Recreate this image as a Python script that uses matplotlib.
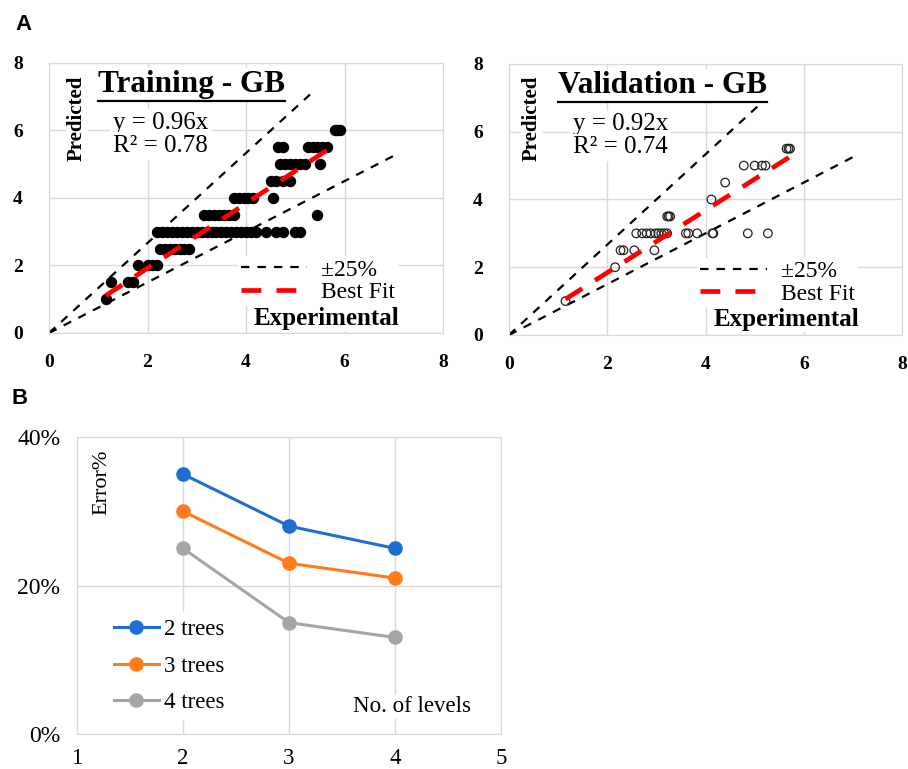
import numpy as np
import matplotlib.pyplot as plt
from matplotlib.lines import Line2D

# ---- panel A: gradient boosting, predicted vs experimental ----
train_x = [5.8, 5.85, 5.9,
           4.65, 4.75, 5.25, 5.35, 5.45, 5.55, 5.65,
           4.7, 4.8, 4.9, 5.0, 5.1, 5.2, 5.5,
           4.5, 4.6, 4.75, 4.9,
           3.75, 3.85, 3.95, 4.05, 4.15, 4.55,
           3.15, 3.25, 3.35, 3.45, 3.55, 3.65, 3.75, 5.45,
           2.2, 2.3, 2.4, 2.5, 2.6, 2.7, 2.8, 2.9, 3.0, 3.1, 3.2, 3.3, 3.4,
           3.5, 3.6, 3.7, 3.8, 3.9, 4.0, 4.1, 4.2, 4.4, 4.6, 4.75, 5.0, 5.1,
           2.25, 2.35, 2.45, 2.55, 2.65, 2.75, 2.85,
           1.8, 2.0, 2.1, 2.2,
           1.25, 1.6, 1.7,
           1.15]
train_y = [6.0] * 3 + [5.5] * 7 + [5.0] * 7 + [4.5] * 4 + [4.0] * 6 + \
          [3.5] * 8 + [3.0] * 26 + [2.5] * 7 + [2.0] * 4 + [1.5] * 3 + [1.0]

valid_x = [1.15, 2.16,
           2.27, 2.33, 2.55, 2.96,
           2.59, 2.71, 2.8, 2.88, 2.98, 3.04, 3.1, 3.16, 3.22,
           3.6, 3.65, 3.83, 4.14, 4.16, 4.86, 5.27,
           3.22, 3.25, 3.28,
           4.12, 4.4,
           4.78, 5.0, 5.15, 5.22,
           5.65, 5.69, 5.72]
valid_y = [1.0, 2.0] + [2.5] * 4 + [3.0] * 16 + [3.5] * 3 + [4.0, 4.5] + \
          [5.0] * 4 + [5.5] * 3

train_slope, train_r2 = 0.96, 0.78
valid_slope, valid_r2 = 0.92, 0.74
fit_range_train = (1.15, 5.65)
fit_range_valid = (1.15, 5.72)

# ---- panel B: error vs depth ----
levels = [2, 3, 4]
err_2trees = [35, 28, 25]
err_3trees = [30, 23, 21]
err_4trees = [25, 15, 13]

SERIF = 'Liberation Serif'
GRID = '#d9d9d9'

fig = plt.figure(figsize=(9.08, 7.69), dpi=100)
ax1 = fig.add_axes([0.0540, 0.5670, 0.4339, 0.3511])
ax2 = fig.add_axes([0.5606, 0.5644, 0.4328, 0.3524])
ax3 = fig.add_axes([0.0848, 0.0455, 0.4670, 0.3862])


def scatter_panel(ax, xs, ys, slope, r2, fit_range, title, hollow, upper_end):
    ax.set_xlim(0, 8)
    ax.set_ylim(0, 8)
    ax.set_xticks([0, 2, 4, 6, 8])
    ax.set_yticks([0, 2, 4, 6, 8])
    ax.grid(True, color=GRID, lw=1)
    ax.set_axisbelow(True)
    for s in ax.spines.values():
        s.set_color(GRID)
    ax.tick_params(length=0, pad=15, labelsize=14)
    ax.tick_params(axis='y', pad=19)
    for lab in ax.get_xticklabels() + ax.get_yticklabels():
        lab.set_fontfamily(SERIF)
        lab.set_fontweight('bold')

    if hollow:
        ax.scatter(xs, ys, s=38, facecolors='none', edgecolors='#222222',
                   linewidths=0.9, zorder=3)
    else:
        ax.scatter(xs, ys, s=52, color='black', zorder=3)

    # +/-25% band
    band, = ax.plot([0, upper_end], [0, upper_end / 0.75], color='black',
                    lw=1.6, dashes=(3.8, 3.6), label='\u00b125%')
    ax.plot([0, 7.0], [0, 0.75 * 7.0], color='black', lw=1.6, dashes=(3.8, 3.6))
    fx = np.array(fit_range)
    fit, = ax.plot(fx, slope * fx, color='#ff0000', lw=3.4, dashes=(4.2, 3.2),
                   label='Best Fit', zorder=4)

    ax.legend(handles=[band, fit], loc='upper left',
              bbox_to_anchor=(0.48, 0.284), frameon=True, fancybox=False,
              framealpha=1, edgecolor='none', facecolor='white',
              prop={'family': SERIF, 'size': 17}, handlelength=2.8,
              handletextpad=0.6, labelspacing=0.03, borderpad=0.12,
              borderaxespad=0)

    ax.set_xlabel('Experimental', fontfamily=SERIF, fontweight='bold',
                  fontsize=18, va='center',
                  bbox=dict(facecolor='white', edgecolor='none', pad=1))
    ax.set_ylabel('Predicted', fontfamily=SERIF, fontweight='bold',
                  fontsize=15, va='center',
                  bbox=dict(facecolor='white', edgecolor='none', pad=1))

    t = ax.text(1.0, 7.35, title, fontfamily=SERIF, fontweight='bold',
                fontsize=22.5, ha='left', va='center',
                bbox=dict(facecolor='white', edgecolor='none', pad=2))
    ax.text(1.3, 6.22, 'y = %.2fx' % slope, fontfamily=SERIF, fontsize=18,
            ha='left', va='center',
            bbox=dict(facecolor='white', edgecolor='none', pad=2))
    ax.text(1.3, 5.54, 'R\u00b2 = %.2f' % r2, fontfamily=SERIF, fontsize=18,
            ha='left', va='center',
            bbox=dict(facecolor='white', edgecolor='none', pad=2))
    return t


t1 = scatter_panel(ax1, train_x, train_y, train_slope, train_r2,
                   fit_range_train, 'Training - GB', False, 5.3)
ax1.xaxis.set_label_coords(0.703, 0.055)
ax1.yaxis.set_label_coords(0.071, 0.796)

t2 = scatter_panel(ax2, valid_x, valid_y, valid_slope, valid_r2,
                   fit_range_valid, 'Validation - GB', True, 5.2)
ax2.xaxis.set_label_coords(0.705, 0.058)
ax2.yaxis.set_label_coords(0.0585, 0.80)

# ---- panel B ----
ax3.plot(levels, err_2trees, '-o', color='#1f6fd0', lw=2.2, ms=9.5, label='2 trees')
ax3.plot(levels, err_3trees, '-o', color='#ff7b1c', lw=2.2, ms=9.5, label='3 trees')
ax3.plot(levels, err_4trees, '-o', color='#a5a5a5', lw=2.2, ms=9.5, label='4 trees')
ax3.set_xlim(1, 5)
ax3.set_ylim(0, 40)
ax3.set_xticks([1, 2, 3, 4, 5])
ax3.set_yticks([0, 20, 40])
ax3.set_yticklabels(['0%', '20%', '40%'])
ax3.grid(True, color=GRID, lw=1)
ax3.set_axisbelow(True)
for s in ax3.spines.values():
    s.set_color(GRID)
ax3.tick_params(length=0, pad=12, labelsize=17)
ax3.tick_params(axis='x', pad=10, labelsize=16.5)
for lab in ax3.get_xticklabels() + ax3.get_yticklabels():
    lab.set_fontfamily(SERIF)
ax3.legend(loc='upper left', bbox_to_anchor=(0.07, 0.41), frameon=True,
           fancybox=False, framealpha=1, edgecolor='none', facecolor='white',
           prop={'family': SERIF, 'size': 16.5}, handlelength=2.0,
           handletextpad=0.2, labelspacing=0.67, borderpad=0.3, borderaxespad=0)
ax3.set_xlabel('No. of levels', fontfamily=SERIF, fontsize=16.5, va='center',
               bbox=dict(facecolor='white', edgecolor='none', pad=1))
ax3.xaxis.set_label_coords(0.79, 0.091)
ax3.set_ylabel('Error%', fontfamily=SERIF, fontsize=16, va='center')
ax3.yaxis.set_label_coords(0.059, 0.848)

fig.text(23 / 908, 1 - 25 / 769, 'A', fontfamily='Liberation Sans',
         fontweight='bold', fontsize=16, ha='center', va='center')
fig.text(20 / 908, 1 - 398 / 769, 'B', fontfamily='Liberation Sans',
         fontweight='bold', fontsize=16, ha='center', va='center')

# underline the panel titles
fig.canvas.draw()
inv = fig.transFigure.inverted()
for t in (t1, t2):
    bb = t.get_window_extent().transformed(inv)
    y = bb.y0 - 2 / 769
    fig.add_artist(Line2D([bb.x0, bb.x1], [y, y], color='black', lw=1.6))

fig.savefig('out.png', dpi=100)
